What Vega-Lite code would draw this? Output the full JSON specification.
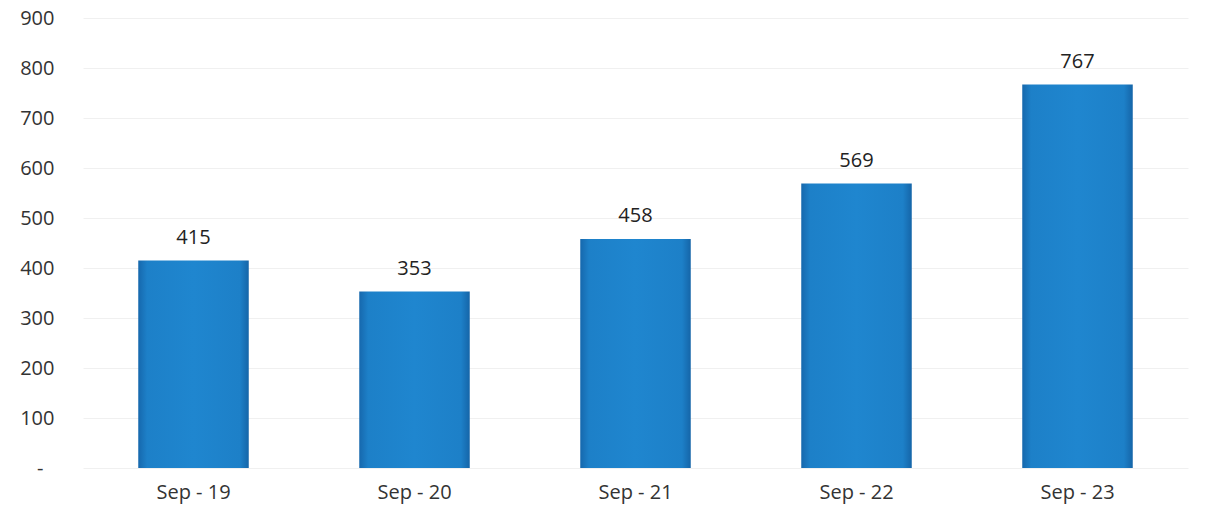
{
  "$schema": "https://vega.github.io/schema/vega-lite/v6.json",
  "autosize": "none",
  "width": 1105,
  "height": 450,
  "padding": {"left": 83, "top": 18, "right": 22, "bottom": 45},
  "background": "white",
  "config": {"view": {"stroke": null}, "font": "Open Sans"},
  "data": {"values": [
    {"period": "Sep - 19", "value": 415},
    {"period": "Sep - 20", "value": 353},
    {"period": "Sep - 21", "value": 458},
    {"period": "Sep - 22", "value": 569},
    {"period": "Sep - 23", "value": 767}
  ]},
  "encoding": {
    "x": {"field": "period", "type": "nominal", "sort": null,
      "scale": {"paddingInner": 0.5, "paddingOuter": 0.25},
      "axis": {"title": null, "labelAngle": 0, "domain": false, "ticks": false, "labelFontSize": 20, "labelColor": "#333", "labelPadding": 14, "labelFont": "Open Sans"}},
    "y": {"field": "value", "type": "quantitative",
      "scale": {"domain": [0, 900]},
      "axis": {"title": null, "values": [0,100,200,300,400,500,600,700,800,900], "labelExpr": "datum.value == 0 ? '-' : datum.label", "domain": false, "ticks": false, "labelFontSize": 20, "labelColor": "#333",
        "labelPadding": {"condition": {"test": "datum.value == 0", "value": 40}, "value": 29},
        "gridColor": "#f0f0f0", "gridWidth": 1, "labelFont": "Open Sans"}}
  },
  "layer": [
    {"mark": {"type": "bar", "color": {"gradient": "linear", "x1": 0, "x2": 1, "y1": 0, "y2": 0, "stops": [
      {"offset": 0, "color": "#1668ad"},
      {"offset": 0.08, "color": "#1d80c8"},
      {"offset": 0.5, "color": "#1f86cf"},
      {"offset": 0.92, "color": "#1d80c8"},
      {"offset": 1, "color": "#1565a8"}]}}},
    {"mark": {"type": "text", "baseline": "alphabetic", "dy": -17, "fontSize": 20, "color": "#222", "font": "Open Sans"},
      "encoding": {"text": {"field": "value", "type": "quantitative"}}}
  ]
}
